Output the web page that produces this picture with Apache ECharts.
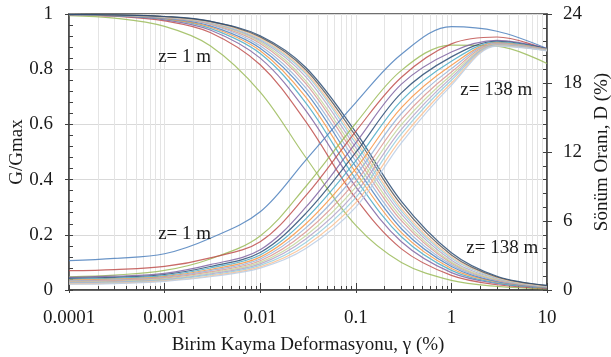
<!DOCTYPE html>
<html>
<head>
<meta charset="utf-8">
<script src="https://cdn.jsdelivr.net/npm/echarts@6/dist/echarts.min.js"></script>
<style>
  html, body { margin: 0; padding: 0; background: #fff; }
  #chart { width: 611px; height: 357px; }
</style>
</head>
<body>
<div id="chart"></div>
<script>
// Shear strain (%) at which each curve is sampled
const strain = [0.0001, 0.0003, 0.001, 0.003, 0.01, 0.03, 0.1, 0.3, 1, 3, 10];

// Modulus reduction G/Gmax, one array per depth
const g01 = [0.994, 0.985, 0.955, 0.885, 0.717, 0.480, 0.234, 0.100, 0.035, 0.013, 0.0044];
const g02 = [0.997, 0.992, 0.975, 0.933, 0.816, 0.610, 0.332, 0.149, 0.053, 0.019, 0.006];
const g03 = [0.998, 0.993, 0.979, 0.942, 0.840, 0.650, 0.374, 0.175, 0.063, 0.0235, 0.0076];
const g04 = [0.998, 0.994, 0.982, 0.948, 0.857, 0.678, 0.402, 0.193, 0.071, 0.026, 0.0085];
const g05 = [0.999, 0.995, 0.983, 0.953, 0.867, 0.699, 0.426, 0.208, 0.078, 0.029, 0.0093];
const g06 = [0.999, 0.995, 0.985, 0.957, 0.876, 0.717, 0.447, 0.222, 0.085, 0.031, 0.0102];
const g07 = [0.999, 0.996, 0.986, 0.962, 0.885, 0.732, 0.467, 0.237, 0.091, 0.034, 0.011];
const g08 = [0.999, 0.996, 0.987, 0.964, 0.893, 0.748, 0.485, 0.251, 0.097, 0.036, 0.012];
const g09 = [0.999, 0.996, 0.988, 0.967, 0.899, 0.758, 0.500, 0.262, 0.101, 0.038, 0.0124];
const g10 = [0.999, 0.997, 0.989, 0.969, 0.904, 0.772, 0.516, 0.275, 0.108, 0.041, 0.013];
const g11 = [0.999, 0.997, 0.990, 0.970, 0.908, 0.783, 0.531, 0.286, 0.115, 0.043, 0.014];
const g12 = [0.999, 0.997, 0.990, 0.971, 0.912, 0.789, 0.543, 0.295, 0.120, 0.045, 0.015];
const g13 = [0.999, 0.997, 0.991, 0.973, 0.917, 0.798, 0.558, 0.308, 0.127, 0.047, 0.016];
const g14 = [0.999, 0.997, 0.991, 0.974, 0.921, 0.806, 0.572, 0.321, 0.135, 0.050, 0.017];

// Damping ratio D (%), one array per depth
const d01 = [2.55, 2.75, 3.15, 4.5, 6.8, 11.3, 16.3, 20.5, 22.9, 22.5, 21.0];
const d02 = [1.15, 1.3, 1.7, 2.7, 4.7, 9.0, 14.5, 19.1, 21.3, 21.2, 19.7];
const d03 = [1.68, 1.78, 2.05, 2.8, 4.2, 8.2, 13.8, 18.5, 21.4, 22.0, 20.9];
const d04 = [1.1, 1.2, 1.45, 2.2, 3.5, 7.2, 12.8, 17.9, 20.7, 21.7, 21.0];
const d05 = [1.01, 1.1, 1.35, 2.04, 3.26, 6.66, 11.96, 17.14, 20.27, 21.63, 20.97];
const d06 = [0.93, 1.02, 1.25, 1.91, 3.05, 6.19, 11.23, 16.47, 19.89, 21.56, 20.94];
const d07 = [0.86, 0.94, 1.17, 1.78, 2.86, 5.76, 10.56, 15.86, 19.54, 21.5, 20.92];
const d08 = [0.80, 0.875, 1.10, 1.68, 2.70, 5.40, 10.0, 15.35, 19.25, 21.45, 20.9];
const d09 = [0.74, 0.81, 1.03, 1.57, 2.54, 5.04, 9.44, 14.84, 18.96, 21.4, 20.88];
const d10 = [0.69, 0.75, 0.97, 1.48, 2.40, 4.72, 8.94, 14.38, 18.7, 21.36, 20.86];
const d11 = [0.64, 0.70, 0.91, 1.39, 2.27, 4.43, 8.49, 13.97, 18.47, 21.32, 20.85];
const d12 = [0.59, 0.65, 0.855, 1.31, 2.14, 4.14, 8.04, 13.57, 18.24, 21.28, 20.83];
const d13 = [0.54, 0.60, 0.80, 1.22, 2.01, 3.85, 7.59, 13.16, 18.0, 21.24, 20.81];
const d14 = [0.5, 0.55, 0.75, 1.15, 1.9, 3.6, 7.2, 12.8, 17.8, 21.2, 20.8];

const gSeries = [g01, g02, g03, g04, g05, g06, g07, g08, g09, g10, g11, g12, g13, g14];
const dSeries = [d01, d02, d03, d04, d05, d06, d07, d08, d09, d10, d11, d12, d13, d14];

const gColors = ['#9BBB59', '#C0504D', '#8064A2', '#4BACC6', '#F79646', '#4F81BD', '#95B3D7',
                 '#D99694', '#C3D69B', '#B3A2C7', '#93CDDD', '#FAC090', '#595959', '#2C4D75'];
const dColors = ['#4F81BD', '#9BBB59', '#C0504D', '#8064A2', '#2C4D75', '#4BACC6', '#F79646',
                 '#95B3D7', '#D99694', '#C3D69B', '#B3A2C7', '#93CDDD', '#FAC090', '#B9CDE5'];

// Axis tick labels
const xTickLabels = ['0.0001', '0.001', '0.01', '0.1', '1', '10'];
const gTickLabels = ['0', '0.2', '0.4', '0.6', '0.8', '1'];
const dTickLabels = ['0', '6', '12', '18', '24'];

// Depth annotations: text and position in (strain, G/Gmax)
const noteText = ['z= 1 m', 'z= 1 m', 'z= 138 m', 'z= 138 m'];
const noteStrain = [0.00162, 0.00162, 2.95, 3.4];
const noteG = [0.844, 0.203, 0.725, 0.152];

// Positions of the 1..9 sub-decade grid lines
const decadeSteps = [];
for (let e = -4; e <= 0; e++) {
  for (let m = 1; m <= 9; m++) decadeSteps.push(+(m * Math.pow(10, e)).toPrecision(3));
}
decadeSteps.push(10);

const FONT = 'Liberation Serif';
const FS = 19;
const AXIS = '#404040';
const TEXT = '#1a1a1a';

const chart = echarts.init(document.getElementById('chart'), null, { renderer: 'canvas' });

function logLabel(v) {
  const i = Math.round(Math.log10(v)) + 4;
  return xTickLabels[i] !== undefined ? xTickLabels[i] : '';
}

const baseX = { type: 'log', logBase: 10, min: 0.0001, max: 10, position: 'bottom', gridIndex: 0 };
const baseG = { type: 'value', min: 0, max: 1, interval: 0.2, position: 'left' };
const baseD = { type: 'value', min: 0, max: 24, interval: 6, position: 'right' };

const series = [];
gSeries.forEach((arr, i) => {
  series.push({
    type: 'line', xAxisIndex: 0, yAxisIndex: 0, smooth: 0.35, symbol: 'none',
    data: strain.map((s, k) => [s, arr[k]]),
    lineStyle: { color: gColors[i], width: 1.2, opacity: 0.85 }, z: 3
  });
});
dSeries.forEach((arr, i) => {
  series.push({
    type: 'line', xAxisIndex: 0, yAxisIndex: 1, smooth: 0.35, symbol: 'none',
    data: strain.map((s, k) => [s, arr[k]]),
    lineStyle: { color: dColors[i], width: 1.2, opacity: 0.85 }, z: 3
  });
});

chart.setOption({
  animation: false,
  grid: { left: 69, right: 64, top: 14, bottom: 67, containLabel: false, outerBoundsMode: 'none',
          show: true, borderColor: AXIS, borderWidth: 1.5, backgroundColor: 'transparent' },
  xAxis: [
    Object.assign({}, baseX, {
      name: 'Birim Kayma Deformasyonu, γ (%)', nameLocation: 'middle', nameGap: 46,
      nameTextStyle: { fontFamily: FONT, fontSize: FS, color: TEXT },
      axisLine: { lineStyle: { color: AXIS, width: 1.5 } },
      axisTick: { show: true, inside: true, length: 4, customValues: decadeSteps, lineStyle: { color: AXIS } },
      axisLabel: { fontFamily: FONT, fontSize: FS, color: TEXT, margin: 19, formatter: logLabel },
      splitLine: { show: true, lineStyle: { color: '#E4E4E4', width: 1 } }
    }),
    Object.assign({}, baseX, {
      axisLine: { show: false }, axisLabel: { show: false },
      axisTick: { show: true, inside: true, length: 7, lineStyle: { color: AXIS } },
      splitLine: { show: false }
    }),
    Object.assign({}, baseX, {
      axisLine: { show: false }, axisLabel: { show: false },
      axisTick: { show: true, inside: false, length: 3, lineStyle: { color: AXIS } },
      splitLine: { show: false }
    })
  ],
  yAxis: [
    Object.assign({}, baseG, {
      name: 'G/Gmax', nameLocation: 'middle', nameGap: 42, nameMoveOverlap: false,
      nameTextStyle: { fontFamily: FONT, fontSize: FS, color: TEXT },
      axisLine: { show: true, lineStyle: { color: AXIS, width: 1.5 } },
      axisTick: { show: true, inside: false, length: 4, lineStyle: { color: AXIS } },
      axisLabel: { fontFamily: FONT, fontSize: FS, color: TEXT, margin: 16,
                   formatter: v => gTickLabels[Math.round(v / 0.2)] },
      splitLine: { show: true, lineStyle: { color: '#D9D9D9', width: 1 } }
    }),
    Object.assign({}, baseD, {
      name: 'Sönüm Oranı, D (%)', nameLocation: 'middle', nameGap: 46,
      nameTextStyle: { fontFamily: FONT, fontSize: FS, color: TEXT },
      axisLine: { show: true, lineStyle: { color: AXIS, width: 1.5 } },
      axisTick: { show: true, inside: false, length: 5, lineStyle: { color: AXIS } },
      axisLabel: { fontFamily: FONT, fontSize: FS, color: TEXT, margin: 16,
                   formatter: v => dTickLabels[Math.round(v / 6)] },
      splitLine: { show: false }
    }),
    Object.assign({}, baseG, {
      axisLine: { show: false }, axisLabel: { show: false }, splitLine: { show: false },
      axisTick: { show: true, inside: true, length: 4, lineStyle: { color: AXIS } },
      minorTick: { show: true, splitNumber: 5, length: 4, lineStyle: { color: AXIS } }
    }),
    Object.assign({}, baseD, {
      axisLine: { show: false }, axisLabel: { show: false }, splitLine: { show: false },
      axisTick: { show: true, inside: true, length: 4, lineStyle: { color: AXIS } },
      minorTick: { show: true, splitNumber: 5, length: 4, lineStyle: { color: AXIS } }
    })
  ],
  series: series
});

// Depth labels placed through the chart's own coordinate system
chart.setOption({
  graphic: noteText.map((t, i) => {
    const p = chart.convertToPixel({ xAxisIndex: 0, yAxisIndex: 0 }, [noteStrain[i], noteG[i]]);
    return {
      type: 'text', x: p[0], y: p[1], z: 10,
      style: { text: t, fontFamily: FONT, fontSize: FS, fill: TEXT,
               align: 'center', verticalAlign: 'middle' }
    };
  })
});
</script>
</body>
</html>
